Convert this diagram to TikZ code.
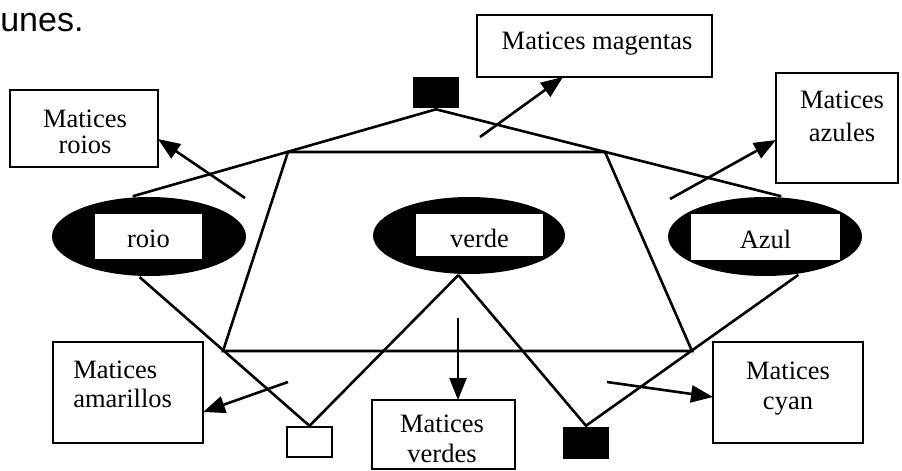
\documentclass[tikz,border=0pt]{standalone}
\usepackage{fontspec}
\setmainfont{Liberation Serif}
\newfontfamily\headfont{Liberation Sans}
\usetikzlibrary{arrows.meta,shapes.geometric}
\begin{document}
\begin{tikzpicture}[x=1pt,y=-1pt,
  line width=2.6pt,
  lbl/.style={font=\fontsize{26.5}{26}\selectfont, inner sep=0pt, align=center},
  box/.style={draw, rectangle, inner sep=0pt, line width=2.3pt},
  blob/.style={ellipse, fill=black, inner sep=0pt},
  tag/.style={draw=white, fill=white, inner sep=0pt, text depth=0pt, font=\fontsize{26.5}{26}\selectfont},
  solid square/.style={fill=black, inner sep=0pt},
  arr/.style={-{Triangle[length=22pt,width=17pt]}},
]
\useasboundingbox (0,0) rectangle (902,471);

% tail of the sentence above the figure
\node[font=\headfont\fontsize{34}{34}\selectfont, inner sep=0pt, anchor=base west] (head) at (-1,31) {unes.};

% outer label boxes
\node[box, minimum width=148pt, minimum height=77pt]  (roios)     at (84,128.5) {};
\node[box, minimum width=235pt, minimum height=62pt]  (magentas)  at (594.5,46) {};
\node[box, minimum width=122pt, minimum height=110pt] (azules)    at (837,128) {};
\node[box, minimum width=150pt, minimum height=101pt] (amarillos) at (128,392.5) {};
\node[box, minimum width=143pt, minimum height=69pt]  (verdes)    at (443.5,434.5) {};
\node[box, minimum width=150pt, minimum height=101pt] (cyan)      at (788,392.5) {};

\node[lbl] (roiost)     at (85,132)    {Matices\\roios};
\node[lbl] (magentast)  at (597,44)    {Matices magentas};
\node[lbl] (azulest)    at (842,116)   {Matices\\[7pt]azules};
\node[lbl, align=left, anchor=west] (amarillost) at (72,384) {Matices\\[3pt]amarillos};
\node[lbl] (verdest)    at (442,439)   {Matices\\[4pt]verdes};
\node[lbl] (cyant)      at (788,389)   {Matices\\[4pt]cyan};

% small squares
\node[solid square, minimum width=46pt, minimum height=31pt] (topsq) at (436,92.5) {};
\node[box, minimum width=45pt, minimum height=30pt] (wsq) at (309.5,442) {};
\node[solid square, minimum width=46pt, minimum height=32pt] (bsq) at (586,443) {};

% primaries
\node[blob, minimum width=194pt, minimum height=79pt] (roio)  at (149,236.5) {};
\node[blob, minimum width=192pt, minimum height=77pt] (verde) at (469,235.5) {};
\node[blob, minimum width=194pt, minimum height=79pt] (azul)  at (765,236.5) {};
\node[tag, text height=21pt, minimum width=105pt, minimum height=43pt] (roiol)  at (148.5,236.5) {roio};
\node[tag, text height=24pt, minimum width=125pt, minimum height=40pt] (verdel) at (479.5,235) {verde};
\node[tag, text height=22pt, minimum width=147pt, minimum height=44pt] (azull)  at (765.5,237) {Azul};

% central trapezoid
\coordinate (tl) at (288,152);
\coordinate (tr) at (605,152);
\coordinate (br) at (692,351);
\coordinate (bl) at (223,351);
\draw (tl) -- (tr) -- (br) -- (bl) -- cycle;

% mixing lines
\draw (roio.112) -- (topsq.south) -- (azul.68);
\draw (roio.257) -- (wsq.north) -- (verde.255);
\draw (verde.255) -- (bsq.north) -- (azul.311);

% arrows to the hue boxes
\coordinate (a1) at (245,198); \coordinate (h1) at (158,139);
\coordinate (a2) at (480,137); \coordinate (h2) at (563,77);
\coordinate (a3) at (670,199); \coordinate (h3) at (776,140);
\coordinate (a4) at (288,382); \coordinate (h4) at (203,412);
\coordinate (a5) at (458,318); \coordinate (h5) at (458,400);
\coordinate (a6) at (607,382); \coordinate (h6) at (713,397);
\draw[arr] (a1) -- (h1);
\draw[arr] (a2) -- (h2);
\draw[arr] (a3) -- (h3);
\draw[arr] (a4) -- (h4);
\draw[arr] (a5) -- (h5);
\draw[arr] (a6) -- (h6);
\end{tikzpicture}
\end{document}
